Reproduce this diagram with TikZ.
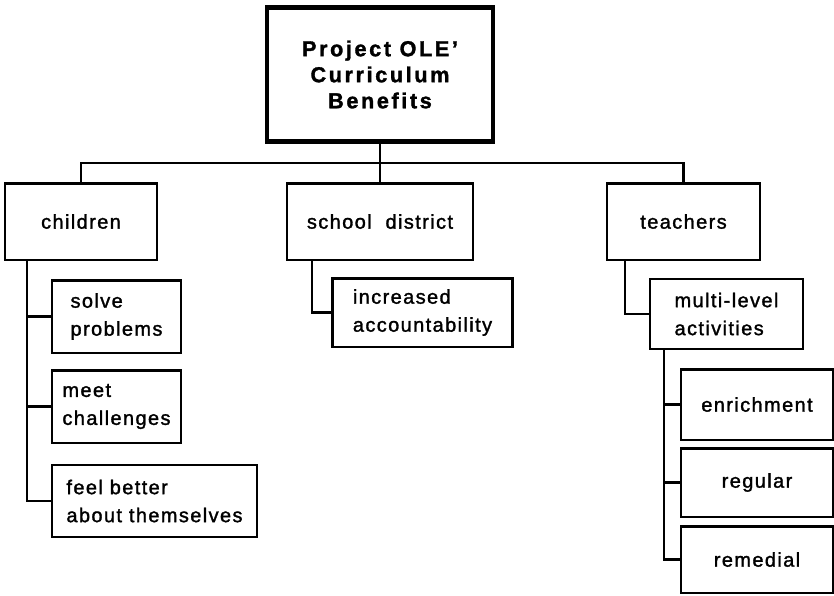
\documentclass[tikz,border=0pt]{standalone}
\usepackage{fontspec}
\setmainfont{Liberation Sans}[LetterSpace=7,FakeBold=1.5]

\begin{document}
\begin{tikzpicture}[x=0.025cm,y=-0.025cm,line cap=rect,line join=miter,
        every node/.style={font=\fontsize{14.2}{19.9}\selectfont},
        branch/.style={draw,line width=2pt,inner sep=0pt,align=center},
        leafbox/.style={draw,line width=2pt,inner sep=0pt,align=left},
        link/.style={line width=2pt}]
        \useasboundingbox (0,0) rectangle (834,595);

        % top of the chart
        \node[draw,line width=3.4pt,minimum width=5.65cm,minimum height=3.35cm,
              align=center,font=\fontsize{15.4}{18.5}\selectfont\bfseries\addfontfeatures{LetterSpace=12}]
            (benefits) at (380,74.5) {Project OLE'\\Curriculum\\Benefits};

        % the three groups
        \node[branch,minimum width=3.8cm,minimum height=1.92cm] (children) at (81,221.5) {children};
        \node[branch,minimum width=4.65cm,minimum height=1.92cm] (district) at (380,221.5) {school\ \ district};
        \node[branch,minimum width=3.82cm,minimum height=1.92cm] (teachers) at (683.5,221.5) {teachers};

        % children
        \node[leafbox,minimum width=3.22cm,minimum height=1.82cm] (solve) at (116.5,316.5)
            {solve\\problems};
        \node[leafbox,minimum width=3.22cm,minimum height=1.82cm] (meet) at (116.5,406.5)
            {meet\\challenges};
        \node[leafbox,minimum width=5.12cm,minimum height=1.8cm] (feel) at (154.5,501)
            {feel better\\about themselves};

        % school district
        \node[leafbox,minimum width=4.48cm,minimum height=1.72cm] (account) at (422.5,312.5)
            {increased\\accountability};

        % teachers
        \node[leafbox,minimum width=3.82cm,minimum height=1.75cm] (multi) at (726.5,314)
            {multi-level\\activities};
        \node[branch,minimum width=3.8cm,minimum height=1.77cm] (enrich) at (757,404.5) {enrichment};
        \node[branch,minimum width=3.8cm,minimum height=1.72cm] (regular) at (757,482.5) {regular};
        \node[branch,minimum width=3.8cm,minimum height=1.67cm] (remedial) at (757,559.5) {remedial};

        % connectors
        \coordinate (bus) at (380,163);
        \coordinate (chspine) at (27,260);
        \coordinate (dspine) at (312,260);
        \coordinate (tspine) at (625,260);
        \coordinate (mspine) at (664,349);

        \draw[link] (benefits.south) -- (district.north);
        \draw[link] (children.north) |- (bus) -| (teachers.north);

        \draw[link] (chspine) |- (solve.west);
        \draw[link] (chspine) |- (meet.west);
        \draw[link] (chspine) |- (feel.west);

        \draw[link] (dspine) |- (account.west);
        \draw[link] (tspine) |- (multi.west);

        \draw[link] (mspine) |- (enrich.west);
        \draw[link] (mspine) |- (regular.west);
        \draw[link] (mspine) |- (remedial.west);
    \end{tikzpicture}
\end{document}
